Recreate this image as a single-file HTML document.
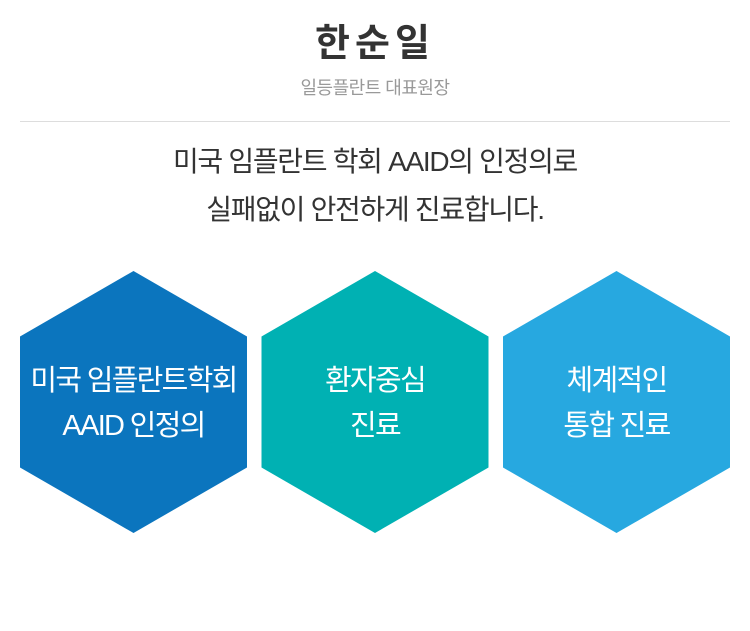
<!DOCTYPE html>
<html><head><meta charset="utf-8"><style>
body{margin:0;width:750px;height:631px;background:#fff;font-family:"Liberation Sans","Noto Sans CJK KR",sans-serif;position:relative;overflow:hidden}
.t{position:absolute;left:0;width:750px;text-align:center}
</style></head><body>
<div class="t" style="top:21px;font-size:38px;line-height:46px;font-weight:bold;color:#333;letter-spacing:5px">한순일</div>
<div class="t" style="top:76px;font-size:18px;line-height:24px;color:#999;letter-spacing:-0.5px">일등플란트 대표원장</div>
<div style="position:absolute;left:20px;top:121px;width:710px;height:1px;background:#ddd"></div>
<div class="t" style="top:138px;font-size:28px;color:#333;line-height:48px;letter-spacing:-1.3px">미국 임플란트 학회 AAID의 인정의로<br>실패없이 안전하게 진료합니다.</div>
<svg width="750" height="631" style="position:absolute;left:0;top:0">
<polygon points="133.5,271 247,336.5 247,467.5 133.5,533 20,467.5 20,336.5" fill="#0b75be"/>
<polygon points="375,271 488.5,336.5 488.5,467.5 375,533 261.5,467.5 261.5,336.5" fill="#00b1b3"/>
<polygon points="616.5,271 730,336.5 730,467.5 616.5,533 503,467.5 503,336.5" fill="#27a8e0"/>
<g font-family="Liberation Sans,Noto Sans CJK KR,sans-serif" font-size="29" fill="#fff" text-anchor="middle" letter-spacing="-1.7">
<text x="133.5" y="390">미국 임플란트학회</text>
<text x="133.5" y="435">AAID 인정의</text>
<text x="375" y="390">환자중심</text>
<text x="375" y="435">진료</text>
<text x="616.5" y="390">체계적인</text>
<text x="616.5" y="435">통합 진료</text>
</g>
</svg>
</body></html>
